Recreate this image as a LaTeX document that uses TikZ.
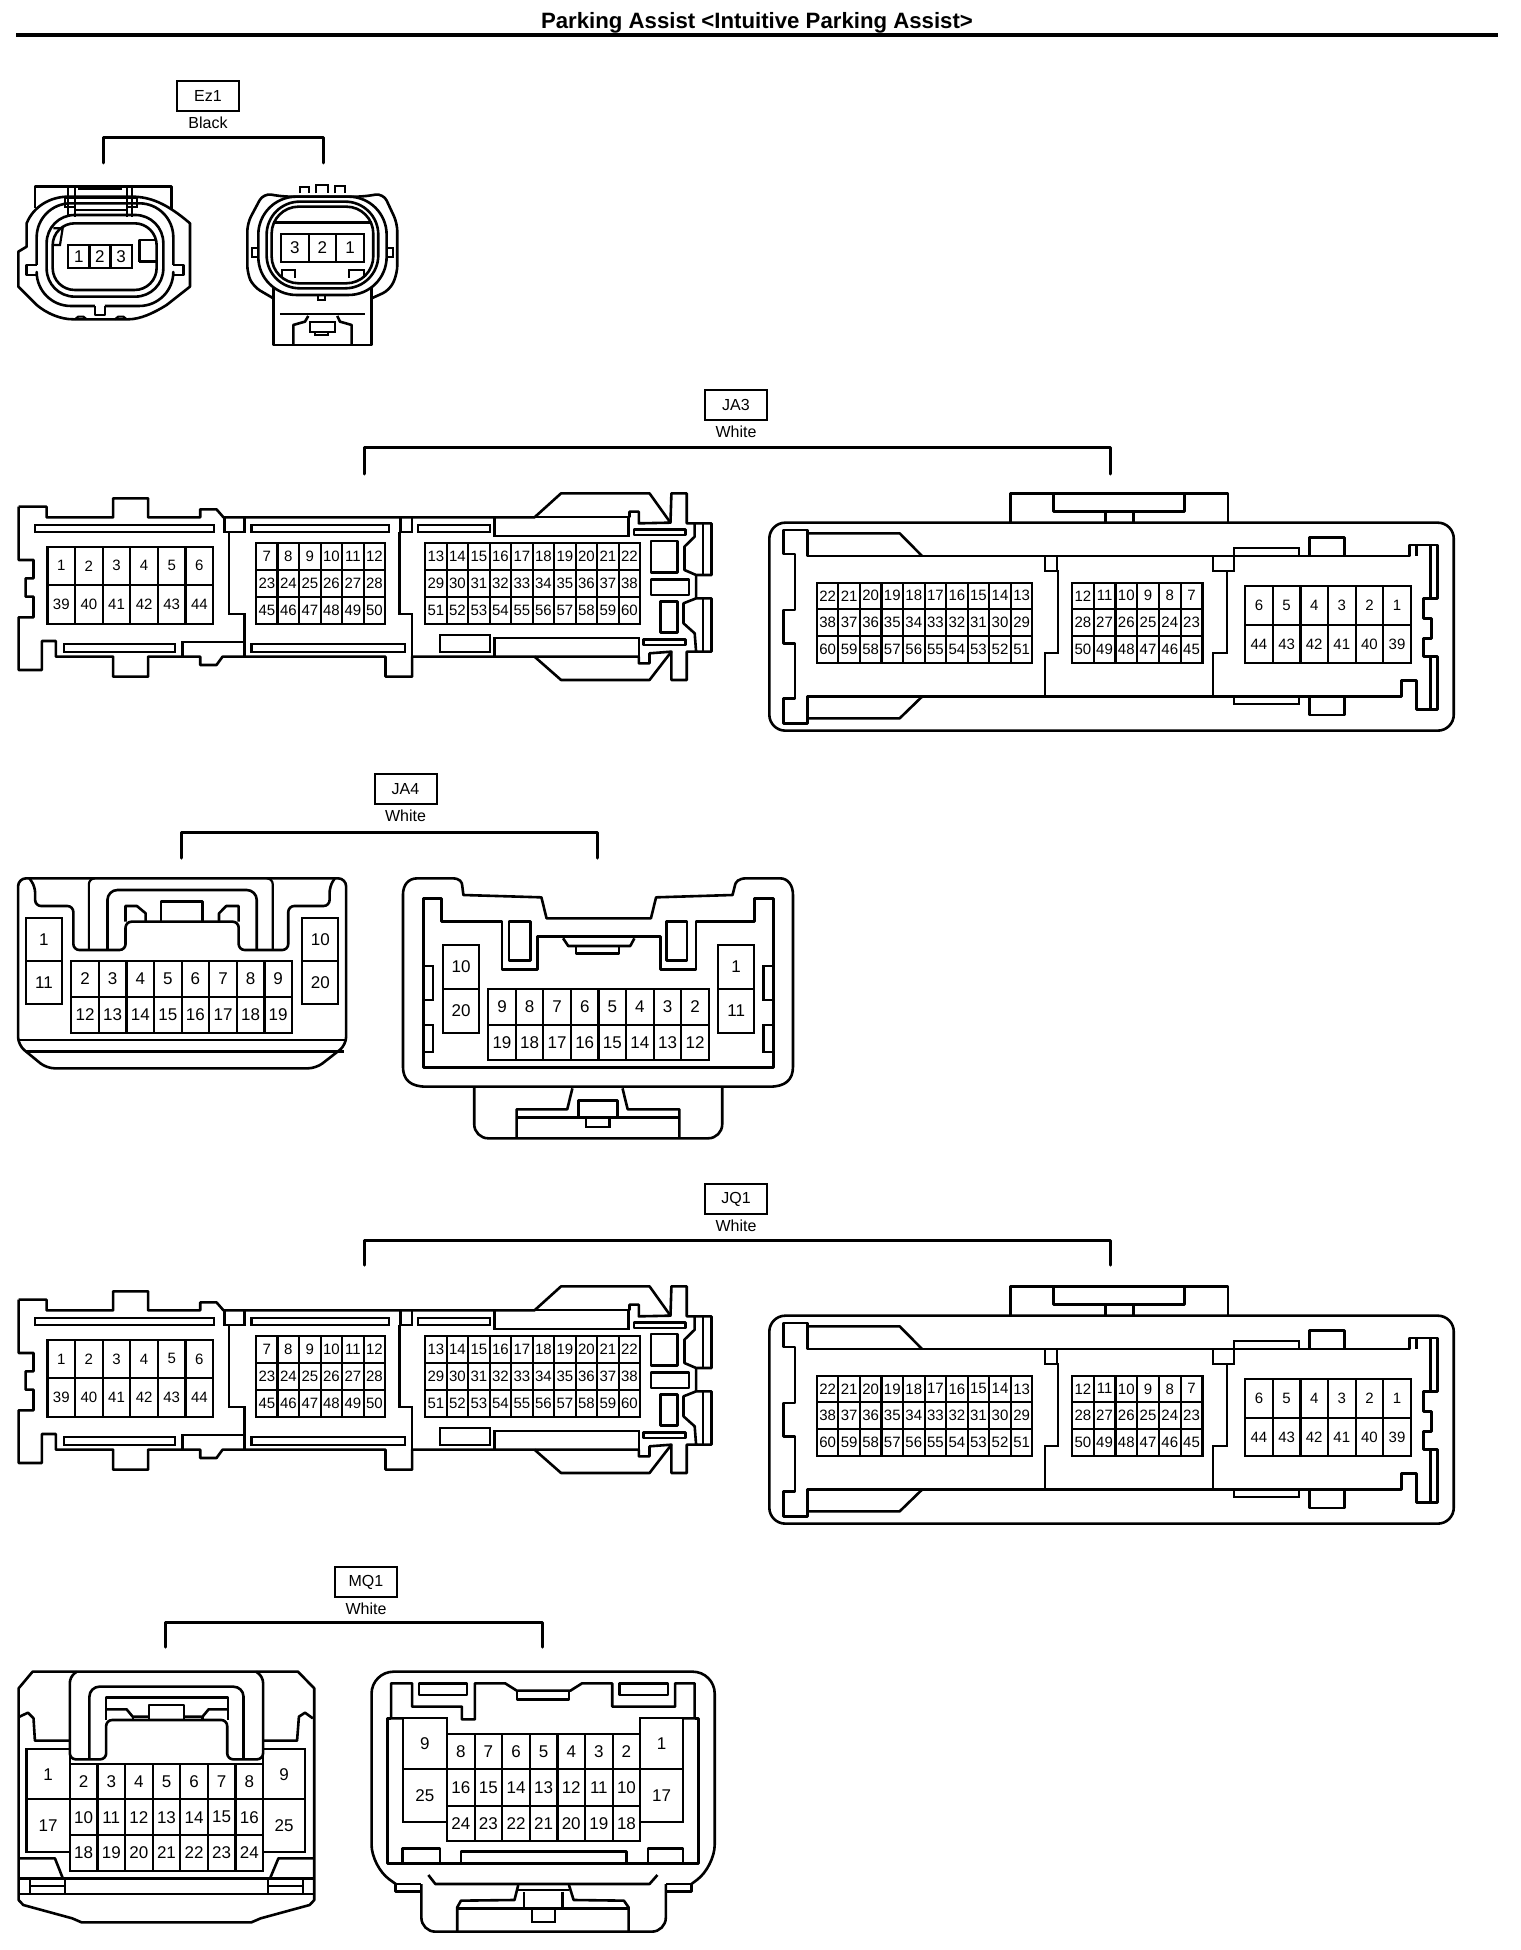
\documentclass[tikz,border=0pt]{standalone}
\usepackage{fontspec}
\setmainfont{Liberation Sans}
\usetikzlibrary{calc, positioning}

\tikzset{
    bodyline/.style={line width=2.6pt, line join=round},
    pinline/.style={line width=2.2pt},
    pinnum/.style={inner sep=0pt, font=\fontsize{15}{15}\selectfont},
    bigpins/.style={pinnum/.style={inner sep=0pt, font=\fontsize{17}{17}\selectfont}},
    tagbox/.style={draw, line width=2pt, minimum width=62pt, minimum height=30pt, inner sep=0pt, font=\fontsize{16}{16}\selectfont},
    colourtag/.style={inner sep=0pt, font=\fontsize{16}{16}\selectfont},
    bracket/.style={line width=3pt, line cap=round, line join=round},
    % crop units of the drawing sheets
    sheeta/.style 2 args={shift={(#1,#2)}, x=.4656pt, y=-.3333pt},
    sheetb/.style 2 args={shift={(#1,#2)}, x=.5166pt, y=-.3333pt},
    sheetc/.style 2 args={shift={(#1,#2)}, x=.3333pt, y=-.3333pt},
}

% prefix, left, top, cell width, cell height, labels
\newcommand{\pinrow}[6]{%
    \foreach \n [count=\c from 0] in {#6} {
        \pgfmathsetmacro{\xa}{#2+\c*#4}
        \draw[pinline] (\xa,#3) rectangle ++(#4,#5);
        \node[pinnum] (#1\n) at (\xa+#4/2,#3+#5/2) {\n};
    }%
}

% the large two-part connector, shown for JA3 and JQ1
\newcommand{\bigconnector}[2]{%
\begin{scope}[sheeta={0}{#2}]
    \draw[bodyline] (40,80) -- (100,80) -- (100,112) -- (243,112) -- (243,55) -- (318,55) -- (318,112) -- (430,112) -- (430,88) -- (465,88) -- (480,112) -- (1148,112) -- (1205,40) -- (1395,40) -- (1440,128) -- (1372,130) -- (1372,95) -- (1352,95) -- (1352,112);
    \draw[bodyline] (1440,128) -- (1442,40) -- (1475,40) -- (1475,130) -- (1528,130) -- (1528,285) -- (1495,285) -- (1470,270) -- (1470,200) -- (1492,170) -- (1492,130);
    \draw[bodyline] (1510,130) -- (1510,285);
    \draw[bodyline] (1495,285) -- (1495,355) -- (1528,355) -- (1528,515) -- (1495,515) -- (1492,460) -- (1468,430) -- (1468,370) -- (1495,355);
    \draw[bodyline] (1510,355) -- (1510,515);
    \draw[bodyline] (1495,515) -- (1475,515) -- (1475,600) -- (1442,600) -- (1442,515) -- (1395,520) -- (1395,550) -- (1372,550) -- (1372,530) -- (885,530) -- (885,590) -- (828,590) -- (828,530) -- (478,530) -- (465,555) -- (430,555) -- (430,530) -- (318,530) -- (318,590) -- (243,590) -- (243,530) -- (120,530) -- (120,483) -- (90,483) -- (90,570) -- (40,570) -- (40,412) -- (72,412) -- (72,350) -- (55,350) -- (55,295) -- (72,295) -- (72,240) -- (40,240) -- (40,80);
    \draw[bodyline] (1148,530) -- (1205,600) -- (1395,600) -- (1442,515);
    \draw[pinline] (75,135) rectangle (460,155);
    \draw[pinline] (540,135) rectangle (835,155);
    \draw[pinline] (898,135) rectangle (1052,155);
    \draw[pinline] (1062,112) rectangle (1350,168);
    \draw[bodyline] (1362,148) rectangle (1472,165);
    \draw[bodyline] (1398,183) rectangle (1455,278);
    \draw[bodyline] (1398,298) rectangle (1480,345);
    \draw[bodyline] (1418,365) rectangle (1455,458);
    \draw[bodyline] (1382,478) rectangle (1472,495);
    \draw[pinline] (945,465) rectangle (1052,515);
    \draw[pinline] (1062,475) rectangle (1372,530);
    \draw[pinline] (540,492) rectangle (870,515);
    \draw[pinline] (138,492) rectangle (375,515);
    \draw[pinline] (392,530) -- (392,485) -- (525,485);
    \draw[pinline] (482,112) rectangle (525,155);
    \draw[pinline] (860,112) rectangle (885,155);
    \draw[pinline] (492,155) -- (492,402) -- (525,402) -- (525,530);
    \draw[pinline] (858,155) -- (858,402) -- (885,402) -- (885,530);
    \pinrow{#1a}{102}{200}{59.3}{115}{1,2,3,4,5,6}
    \pinrow{#1a}{102}{315}{59.3}{117}{39,40,41,42,43,44}
    \pinrow{#1b}{550}{188}{46.2}{82}{7,8,9,10,11,12}
    \pinrow{#1b}{550}{270}{46.2}{80}{23,24,25,26,27,28}
    \pinrow{#1b}{550}{350}{46.2}{82}{45,46,47,48,49,50}
    \pinrow{#1c}{913}{188}{46.2}{82}{13,14,15,16,17,18,19,20,21,22}
    \pinrow{#1c}{913}{270}{46.2}{80}{29,30,31,32,33,34,35,36,37,38}
    \pinrow{#1c}{913}{350}{46.2}{82}{51,52,53,54,55,56,57,58,59,60}
\end{scope}
\begin{scope}[sheeta={760}{#2}]
    \draw[bodyline, rounded corners=16pt] (20,128) rectangle (1490,752);
    \draw[bodyline] (538,128) -- (538,40) -- (1005,40) -- (1005,128);
    \draw[bodyline] (630,40) -- (630,95) -- (912,95) -- (912,40);
    \draw[pinline] (742,95) -- (742,128);
    \draw[pinline] (802,95) -- (802,128);
    \draw[bodyline] (1395,228) -- (1395,195) -- (1455,195) -- (1455,355) -- (1425,355) -- (1425,415) -- (1442,415) -- (1442,475) -- (1425,475) -- (1425,530) -- (1455,530) -- (1455,688) -- (1410,688) -- (1410,602) -- (1378,602) -- (1378,650) -- (102,650) -- (102,730) -- (50,730) -- (50,655) -- (75,655) -- (75,490) -- (50,490) -- (50,390) -- (75,390) -- (75,222) -- (50,222) -- (50,150) -- (102,150) -- (102,228) -- cycle;
    \draw[bodyline] (102,160) -- (300,160) -- (348,228);
    \draw[bodyline] (102,715) -- (300,715) -- (348,650);
    \draw[pinline] (1440,195) -- (1440,355);
    \draw[pinline] (1440,530) -- (1440,688);
    \draw[pinline] (1410,195) -- (1410,228);
    \draw[pinline] (1018,228) -- (1018,205) -- (1158,205) -- (1158,228);
    \draw[bodyline] (1180,228) -- (1180,172) -- (1255,172) -- (1255,228);
    \draw[pinline] (1018,650) -- (1018,672) -- (1158,672) -- (1158,650);
    \draw[bodyline] (1180,650) -- (1180,705) -- (1255,705) -- (1255,650);
    \draw[pinline] (612,228) -- (612,272) -- (640,272) -- (640,520) -- (612,520) -- (612,650);
    \draw[pinline] (638,228) -- (638,272);
    \draw[pinline] (973,228) -- (973,272) -- (1018,272) -- (1018,228);
    \draw[pinline] (1003,272) -- (1003,520) -- (973,520) -- (973,650);
    \pinrow{#1d}{122}{308}{46.3}{79}{22,21,20,19,18,17,16,15,14,13}
    \pinrow{#1d}{122}{387}{46.3}{81}{38,37,36,35,34,33,32,31,30,29}
    \pinrow{#1d}{122}{468}{46.3}{82}{60,59,58,57,56,55,54,53,52,51}
    \pinrow{#1e}{670}{308}{46.7}{79}{12,11,10,9,8,7}
    \pinrow{#1e}{670}{387}{46.7}{81}{28,27,26,25,24,23}
    \pinrow{#1e}{670}{468}{46.7}{82}{50,49,48,47,46,45}
    \pinrow{#1f}{1042}{318}{59.3}{117}{6,5,4,3,2,1}
    \pinrow{#1f}{1042}{435}{59.3}{115}{44,43,42,41,40,39}
\end{scope}%
}

\begin{document}
\begin{tikzpicture}[x=1pt, y=-1pt]
    \useasboundingbox (0,0) rectangle (1520,1950);

    \node[font=\bfseries\fontsize{22.2}{22.2}\selectfont] (title) at (757,23) {Parking Assist <Intuitive Parking Assist>};
    \coordinate (ruleleft) at (16,35);
    \coordinate (ruleright) at (1498,35);
    \draw[line width=3.2pt] (ruleleft) -- (ruleright);

    % Ez1
    \node[tagbox] (ez1) at (208,96) {Ez1};
    \node[colourtag, below=5pt of ez1.south] (ez1colour) {Black};
    \coordinate (ez1left) at (103,163);
    \coordinate (ez1right) at (323,163);
    \draw[bracket] (ez1left) -- ++(0,-25) -| (ez1right);
    \begin{scope}[sheetc={0}{60}, bigpins]
        \draw[bodyline] (105,445) -- (105,380) -- (515,380) -- (515,450);
        \draw[bodyline] (55,575) -- (80,560) -- (80,490) .. controls (100,440) and (150,410) .. (205,410) -- (395,410) .. controls (450,410) and (500,430) .. (570,490) -- (570,680) -- (500,735) .. controls (460,760) and (420,778) .. (385,778) -- (220,778) .. controls (180,778) and (140,760) .. (110,735) -- (55,680) -- cycle;
        \draw[bodyline, rounded corners=34pt] (110,615) -- (110,430) -- (520,430) -- (520,615);
        \draw[bodyline] (110,615) -- (80,615) -- (80,645) -- (110,645);
        \draw[bodyline] (520,615) -- (550,615) -- (550,645) -- (520,645);
        \draw[bodyline, rounded corners=34pt] (110,645) -- (110,738) -- (285,738);
        \draw[bodyline, rounded corners=34pt] (520,645) -- (520,738) -- (315,738);
        \draw[bodyline] (285,738) -- (285,765) -- (315,765) -- (315,738);
        \draw[bodyline, rounded corners=28pt] (140,465) rectangle (490,710);
        \draw[bodyline, rounded corners=22pt] (158,490) rectangle (470,690);
        \draw[pinline] (160,505) -- (188,505) -- (180,555) -- (160,555);
        \draw[bodyline] (418,605) -- (470,605) (418,605) -- (418,540) -- (470,540);
        \draw[pinline] (205,380) -- (205,470) (225,380) -- (225,470) (380,380) -- (380,470) (395,380) -- (395,470);
        \draw[pinline] (195,415) rectangle (225,440) (380,415) rectangle (410,440);
        \draw[pinline] (225,415) -- (380,415) (225,450) -- (380,450);
        \draw[line width=3pt] (235,385) -- (365,385);
        \draw[pinline] (225,778) -- (235,770) -- (250,770) -- (260,778) (345,778) -- (355,770) -- (370,770) -- (380,778);
        \pinrow{eza}{205}{555}{63.3}{70}{1,2,3}
    \end{scope}
    \begin{scope}[sheetc={0}{60}, bigpins]
        \draw[pinline] (900,400) -- (900,382) -- (928,382) -- (928,400) (948,400) -- (948,376) -- (985,376) -- (985,400) (1005,400) -- (1005,378) -- (1035,378) -- (1035,400);
        \draw[bodyline, rounded corners=8pt] (820,715) -- (760,680) -- (742,640) -- (742,490) -- (790,400) -- (850,410) -- (1090,410) -- (1150,400) -- (1192,490) -- (1192,640) -- (1170,690) -- (1115,715);
        \draw[bodyline, rounded corners=38pt] (775,410) rectangle (1160,705);
        \draw[bodyline, rounded corners=33pt] (800,425) rectangle (1135,685);
        \draw[bodyline, rounded corners=27pt] (815,440) rectangle (1120,670);
        \draw[bodyline] (820,488) -- (1115,488);
        \draw[pinline] (845,655) -- (845,630) -- (885,630) -- (885,655) (1092,655) -- (1092,630) -- (1048,630) -- (1048,655);
        \draw[pinline] (755,565) rectangle (775,590) (1160,565) rectangle (1180,590);
        \draw[bodyline] (820,685) -- (820,855) -- (1115,855) -- (1115,685);
        \draw[bodyline] (840,762) -- (1095,762);
        \draw[pinline] (955,705) -- (955,720) -- (975,720) -- (975,705);
        \draw[bodyline] (880,855) -- (880,795) -- (915,785) -- (925,768) (1055,855) -- (1055,795) -- (1020,785) -- (1012,768);
        \draw[pinline] (930,815) -- (930,785) -- (1005,785) -- (1005,815) -- cycle (945,815) rectangle (985,825);
        \pinrow{ezb}{843}{522}{83}{83}{3,2,1}
    \end{scope}

    % JA3
    \node[tagbox] (ja3) at (736,405) {JA3};
    \node[colourtag, below=5pt of ja3.south] (ja3colour) {White};
    \coordinate (ja3left) at (364,474);
    \coordinate (ja3right) at (1110,474);
    \draw[bracket] (ja3left) -- ++(0,-27) -| (ja3right);
    \bigconnector{ja3}{480}

    % JA4
    \node[tagbox] (ja4) at (405.5,789) {JA4};
    \node[colourtag, below=5pt of ja4.south] (ja4colour) {White};
    \coordinate (ja4left) at (181,858);
    \coordinate (ja4right) at (597,858);
    \draw[bracket] (ja4left) -- ++(0,-26) -| (ja4right);
    \begin{scope}[sheetb={0}{870}, bigpins]
        \draw[bodyline, rounded corners=8pt] (35,25) -- (670,25) -- (670,525) -- (612,595) -- (90,595) -- (35,525) -- cycle;
        \draw[bodyline] (35,510) -- (670,510);
        \draw[bodyline] (50,545) -- (665,545);
        \draw[bodyline, rounded corners=6pt] (57,25) -- (68,50) -- (68,108) -- (142,108) -- (142,240) -- (243,240) -- (243,155) -- (462,155) -- (462,240) -- (558,240) -- (558,108) -- (638,108) -- (638,50) -- (648,25);
        \draw[pinline, rounded corners=6pt] (172,240) -- (172,25) -- (182,25) (528,240) -- (528,25) -- (518,25);
        \draw[bodyline, rounded corners=10pt] (208,240) -- (208,60) -- (497,60) -- (497,240);
        \draw[bodyline] (243,155) -- (243,108) -- (265,108) -- (282,130) -- (282,155);
        \draw[bodyline] (462,155) -- (462,108) -- (438,108) -- (424,130) -- (424,155);
        \draw[bodyline] (312,155) -- (312,95) -- (392,95) -- (392,155);
        \pinrow{ja4a}{50}{143}{70}{129}{1}
        \pinrow{ja4a}{50}{272}{70}{131}{11}
        \pinrow{ja4b}{585}{143}{70}{129}{10}
        \pinrow{ja4b}{585}{272}{70}{131}{20}
        \pinrow{ja4c}{138}{272}{53.4}{108}{2,3,4,5,6,7,8,9}
        \pinrow{ja4c}{138}{380}{53.4}{108}{12,13,14,15,16,17,18,19}
    \end{scope}
    \begin{scope}[sheetb={0}{870}, bigpins]
        \draw[bodyline] (780,75) .. controls (780,45) and (790,25) .. (808,25) -- (875,25) .. controls (890,25) and (895,35) .. (895,50) -- (897,75) -- (1048,82) -- (1058,145) -- (1260,145) -- (1270,82) -- (1418,75) -- (1422,50) .. controls (1423,35) and (1430,25) .. (1445,25) -- (1510,25) .. controls (1525,25) and (1535,45) .. (1535,75) -- (1535,590) .. controls (1535,630) and (1520,650) .. (1490,650) -- (825,650) .. controls (795,650) and (780,630) .. (780,590) -- cycle;
        \draw[bodyline] (820,85) -- (855,85) -- (855,155) -- (972,155) -- (972,298) -- (1040,298) -- (1040,200) -- (1278,200) -- (1278,298) -- (1347,298) -- (1347,155) -- (1460,155) -- (1460,85) -- (1497,85) -- (1497,592) -- (820,592) -- cycle;
        \draw[bodyline] (985,155) rectangle (1027,272) (1290,155) rectangle (1330,272);
        \draw[bodyline] (1090,205) -- (1100,228) -- (1220,228) -- (1228,205);
        \draw[bodyline] (1115,228) rectangle (1198,250);
        \draw[pinline] (820,288) rectangle (838,390) (820,465) rectangle (838,545) (1478,288) rectangle (1497,390) (1478,465) rectangle (1497,545);
        \draw[bodyline, rounded corners=14pt] (918,650) -- (918,805) -- (1398,805) -- (1398,650);
        \draw[bodyline] (1000,805) -- (1000,718) -- (1098,718) -- (1108,655);
        \draw[bodyline] (1315,805) -- (1315,718) -- (1215,718) -- (1205,655);
        \draw[bodyline] (1000,742) -- (1315,742);
        \draw[bodyline] (1120,742) -- (1120,692) -- (1195,692) -- (1195,742);
        \draw[pinline] (1135,742) rectangle (1180,772);
        \pinrow{ja4d}{858}{225}{69}{132}{10}
        \pinrow{ja4d}{858}{357}{69}{131}{20}
        \pinrow{ja4e}{1390}{225}{70}{132}{1}
        \pinrow{ja4e}{1390}{357}{70}{131}{11}
        \pinrow{ja4f}{945}{357}{53.4}{108}{9,8,7,6,5,4,3,2}
        \pinrow{ja4f}{945}{465}{53.4}{105}{19,18,17,16,15,14,13,12}
    \end{scope}

    % JQ1
    \node[tagbox] (jq1) at (736,1199) {JQ1};
    \node[colourtag, below=5pt of jq1.south] (jq1colour) {White};
    \coordinate (jq1left) at (364,1265);
    \coordinate (jq1right) at (1110,1265);
    \draw[bracket] (jq1left) -- ++(0,-25) -| (jq1right);
    \bigconnector{jq1}{1273}

    % MQ1
    \node[tagbox] (mq1) at (366,1582) {MQ1};
    \node[colourtag, below=5pt of mq1.south] (mq1colour) {White};
    \coordinate (mq1left) at (165,1647);
    \coordinate (mq1right) at (542,1647);
    \draw[bracket] (mq1left) -- ++(0,-25) -| (mq1right);
    \begin{scope}[sheeta={0}{1670}, bigpins]
        \draw[bodyline] (40,55) -- (70,5) -- (640,5) -- (675,55) -- (675,690) -- (665,705) -- (560,745) -- (540,757) -- (175,757) -- (155,745) -- (50,705) -- (40,690) -- cycle;
        \draw[bodyline] (40,672) -- (675,672);
        \draw[bodyline] (40,625) -- (675,625);
        \draw[bodyline] (40,565) -- (118,565) -- (135,625);
        \draw[bodyline] (675,565) -- (598,565) -- (580,625);
        \draw[pinline] (65,625) -- (65,672) (140,625) -- (140,672) (65,648) -- (140,648);
        \draw[pinline] (575,625) -- (575,672) (650,625) -- (650,672) (575,648) -- (650,648);
        \draw[bodyline] (42,140) -- (60,128) -- (72,145) -- (75,212) -- (150,212);
        \draw[bodyline] (672,145) -- (655,128) -- (642,140) -- (638,212) -- (565,212);
        \draw[bodyline, rounded corners=6pt] (165,5) -- (150,20) -- (150,268) -- (228,268) -- (228,150) -- (488,150) -- (488,268) -- (565,268) -- (565,20) -- (550,5);
        \draw[bodyline, rounded corners=10pt] (192,268) -- (192,50) -- (523,50) -- (523,268);
        \draw[bodyline] (228,150) -- (228,82) -- (490,82) -- (490,150);
        \draw[bodyline] (228,118) -- (272,118) -- (285,140) -- (320,140);
        \draw[bodyline] (490,118) -- (448,118) -- (435,140) -- (395,140);
        \draw[bodyline] (320,150) -- (320,105) -- (395,105) -- (395,150);
        \draw[pinline] (285,140) -- (285,150) (435,140) -- (435,150);
        \pinrow{mqa}{57}{238}{93}{150}{1}
        \pinrow{mqa}{57}{388}{93}{157}{17}
        \pinrow{mqb}{565}{238}{90}{150}{9}
        \pinrow{mqb}{565}{388}{90}{157}{25}
        \pinrow{mqc}{150}{283}{59.3}{105}{2,3,4,5,6,7,8}
        \pinrow{mqc}{150}{388}{59.3}{107}{10,11,12,13,14,15,16}
        \pinrow{mqc}{150}{495}{59.3}{108}{18,19,20,21,22,23,24}
    \end{scope}
    \begin{scope}[sheeta={0}{1670}, bigpins]
        \draw[bodyline, rounded corners=22pt] (850,642) -- (798,590) -- (798,5) -- (1535,5) -- (1535,590) -- (1485,642);
        \draw[bodyline] (850,642) -- (850,665) -- (905,665) (850,642) -- (905,642);
        \draw[bodyline] (1485,642) -- (1485,665) -- (1430,665) (1485,642) -- (1430,642);
        \draw[bodyline, rounded corners=14pt] (905,642) -- (905,785) -- (1430,785) -- (1430,642);
        \draw[bodyline] (1467,145) -- (1492,145) -- (1492,40) -- (1450,40) -- (1450,110) -- (1315,110) -- (1315,40) -- (1250,40) -- (1225,62) -- (1110,62) -- (1085,40) -- (1020,40) -- (1020,148) -- (992,148) -- (992,110) -- (885,110) -- (885,40) -- (840,40) -- (840,145) -- (865,145);
        \draw[bodyline] (840,145) -- (832,145) -- (832,580) -- (1500,580) -- (1500,145) -- (1492,145);
        \draw[bodyline] (900,40) rectangle (1003,75) (1330,40) rectangle (1435,75);
        \draw[bodyline] (1110,62) -- (1110,88) -- (1222,88) -- (1222,62);
        \draw[bodyline] (865,580) -- (865,535) -- (945,535) -- (945,580);
        \draw[bodyline] (990,580) -- (990,545) -- (1345,545) -- (1345,580);
        \draw[bodyline] (1392,580) -- (1392,535) -- (1467,535) -- (1467,580);
        \draw[bodyline] (920,615) -- (935,642) -- (1395,642) -- (1412,615);
        \draw[bodyline] (1113,645) -- (1105,690) -- (990,692) -- (982,712) -- (982,785);
        \draw[bodyline] (1222,645) -- (1232,690) -- (1340,692) -- (1350,712) -- (1350,785);
        \draw[bodyline] (982,715) -- (1350,715) (1113,660) -- (1222,660);
        \draw[bodyline] (1125,715) -- (1125,665) (1208,665) -- (1208,715);
        \draw[pinline] (1143,715) rectangle (1192,755);
        \pinrow{mqd}{865}{145}{95}{153}{9}
        \pinrow{mqd}{865}{298}{95}{157}{25}
        \pinrow{mqe}{1375}{145}{92}{153}{1}
        \pinrow{mqe}{1375}{298}{92}{157}{17}
        \pinrow{mqf}{960}{192}{59.3}{106}{8,7,6,5,4,3,2}
        \pinrow{mqf}{960}{298}{59.3}{110}{16,15,14,13,12,11,10}
        \pinrow{mqf}{960}{408}{59.3}{104}{24,23,22,21,20,19,18}
    \end{scope}
\end{tikzpicture}
\end{document}
